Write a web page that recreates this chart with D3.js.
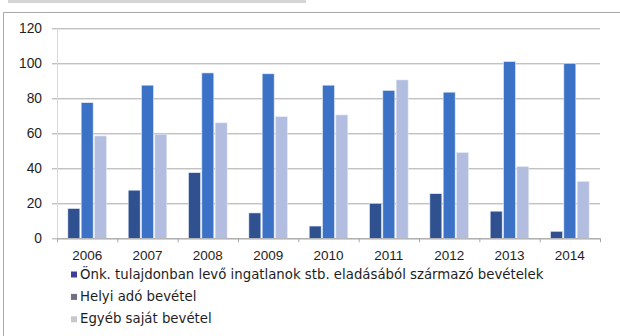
<!DOCTYPE html>
<html>
<head>
<meta charset="utf-8">
<script src="https://cdn.jsdelivr.net/npm/d3@7"></script>
<style>
  html, body { margin: 0; padding: 0; background: #fff; }
  svg { display: block; font-family: "DejaVu Sans", sans-serif; }
</style>
</head>
<body>
<svg id="chart" width="620" height="336"></svg>
<script>
const years = ["2006","2007","2008","2009","2010","2011","2012","2013","2014"];
const seriesNames = [
  "Önk. tulajdonban levő ingatlanok stb. eladásából származó bevételek",
  "Helyi adó bevétel",
  "Egyéb saját bevétel"
];
const ingatlan = [17, 27.5, 37.5, 14.5, 7, 20, 25.5, 15.5, 4];
const helyiAdo = [77.5, 87.5, 94.5, 94, 87.5, 84.5, 83.5, 101, 100];
const egyeb = [58.5, 59.5, 66, 69.5, 70.5, 90.5, 49, 41, 32.5];
const yTicks = [0, 20, 40, 60, 80, 100, 120];

const barColors = ["#2f5190", "#3b72c6", "#b3bde0"];
const legendColors = ["#3f3f96", "#6f6f86", "#c6c7cf"];
const seriesValues = [ingatlan, helyiAdo, egyeb];

const svg = d3.select("#chart");

// frame decorations
svg.append("rect").attr("x", 8).attr("y", 0).attr("width", 298).attr("height", 3).attr("fill", "#d6d6d6");
svg.append("path").attr("d", "M3.5,340 V12.5 H620").attr("fill", "none").attr("stroke", "#a8a8a8").attr("stroke-width", 1);

const pLeft = 57, pRight = 600, pTop = 28.3, pBottom = 238.3;

const x0 = d3.scaleBand().domain(years).range([pLeft, pRight]).paddingInner(0.36).paddingOuter(0.18);
const x1 = d3.scaleBand().domain(d3.range(3)).range([0, x0.bandwidth()]).paddingInner(0.1);
const y = d3.scaleLinear().domain([0, 120]).range([pBottom, pTop]);

// gridlines + y labels
const yAxis = d3.axisLeft(y).tickValues(yTicks).tickSize(0).tickPadding(10);
const gy = svg.append("g").attr("transform", `translate(${pLeft - 5},0)`).call(yAxis);
gy.select(".domain").remove();
gy.selectAll(".tick line").attr("stroke", "#a9a9a9").attr("stroke-width", 1)
  .attr("x1", 0).attr("x2", pRight - pLeft + 5);
gy.selectAll(".tick text").attr("font-size", 13.8).attr("fill", "#1e1e1e").attr("x", -10);

// y axis line (faint)
svg.append("line").attr("x1", pLeft + 0.5).attr("x2", pLeft + 0.5).attr("y1", pTop).attr("y2", pBottom)
  .attr("stroke", "#d8d8d8");

// bars
const groups = svg.append("g").selectAll("g").data(years).join("g")
  .attr("transform", d => `translate(${x0(d)},0)`);
groups.selectAll("rect").data((d, i) => seriesValues.map((s, k) => ({k, v: s[i]}))).join("rect")
  .attr("x", d => x1(d.k))
  .attr("width", x1.bandwidth())
  .attr("y", d => y(d.v))
  .attr("height", d => y(0) - y(d.v))
  .attr("fill", d => barColors[d.k])
  .attr("stroke", "#e6ecf7").attr("stroke-width", 0.6);

// x axis
const xAxis = d3.axisBottom(x0).tickSize(0).tickPadding(12);
const gx = svg.append("g").attr("transform", `translate(0,${pBottom})`).call(xAxis);
gx.select(".domain").attr("stroke", "#a9a9a9");
gx.selectAll(".tick text").attr("font-size", 13.5).attr("fill", "#1e1e1e");
// boundary tick marks
const bounds = d3.range(years.length + 1).map(i => pLeft + i * (pRight - pLeft) / years.length);
svg.append("g").selectAll("line").data(bounds).join("line")
  .attr("x1", d => d + 0.5).attr("x2", d => d + 0.5)
  .attr("y1", pBottom).attr("y2", pBottom + 4)
  .attr("stroke", "#a9a9a9");

// legend
const lg = svg.append("g").selectAll("g").data(seriesNames).join("g")
  .attr("transform", (d, i) => `translate(71,${278.5 + i * 22.4})`);
lg.append("rect").attr("x", 0).attr("y", -7).attr("width", 6).attr("height", 6)
  .attr("fill", (d, i) => legendColors[i]);
lg.append("text").attr("x", 9).attr("y", 0).attr("font-size", 13.3).attr("fill", "#1e1e1e")
  .text(d => d);
</script>
</body>
</html>
